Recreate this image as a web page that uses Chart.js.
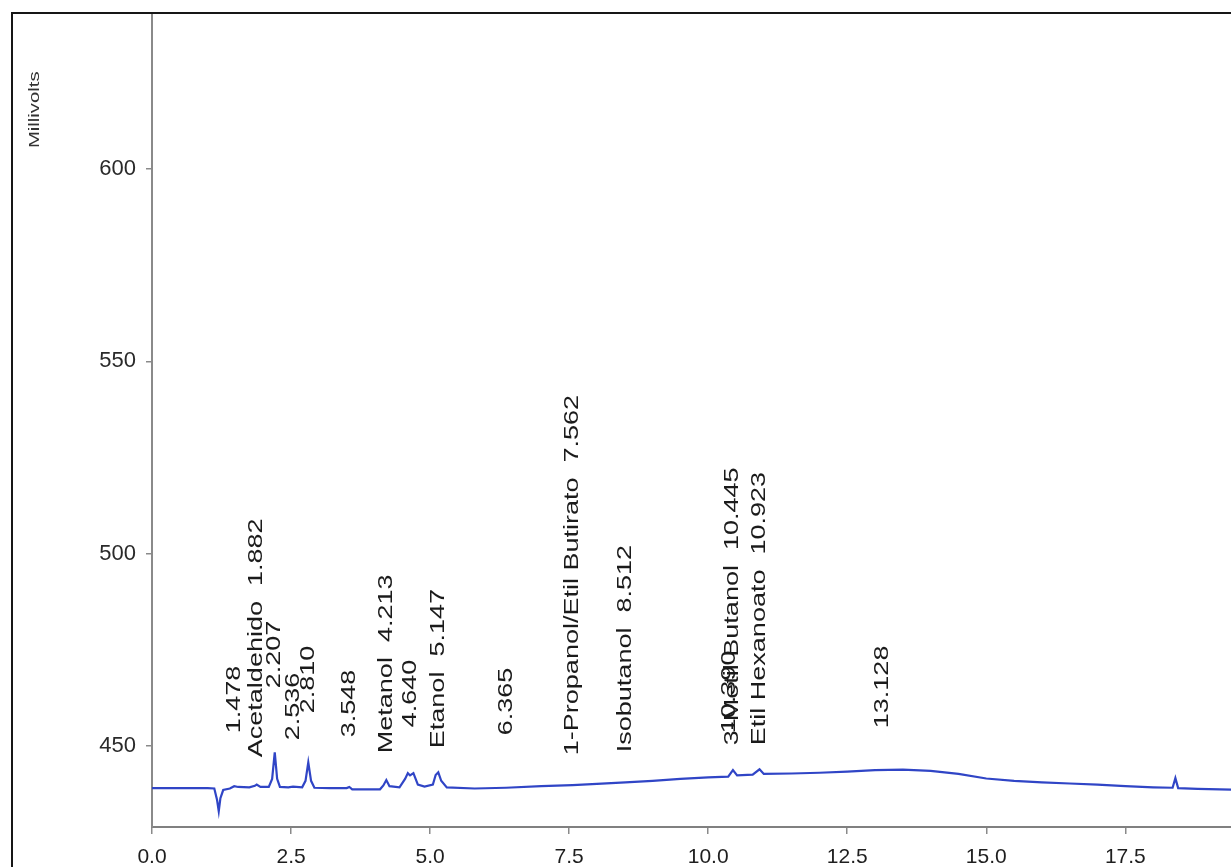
<!doctype html>
<html>

<head>
  <meta charset="utf-8">
  <script src="https://cdn.jsdelivr.net/npm/chart.js@4.4.1/dist/chart.umd.min.js"></script>
  <style>
    html, body { margin: 0; padding: 0; background: #fff; overflow: hidden; }
    #wrap { position: relative; width: 1231px; height: 867px; }
    #frame {
      position: absolute; left: 11px; top: 12px; width: 1400px; height: 1000px;
      border-left: 2px solid #161616; border-top: 2px solid #161616; pointer-events: none;
    }
  </style>
</head>

<body>
  <div id="wrap">
    <canvas id="chrom" width="1231" height="867"></canvas>
    <div id="frame"></div>
  </div>
  <script>
    // retention time (min) / detector signal (mV)
    const timeMin = [
      0.00, 0.50, 1.00, 1.12, 1.17, 1.20, 1.23, 1.28, 1.40, 1.478, 1.55, 1.75, 1.85, 1.882, 1.95,
      2.10, 2.16, 2.207, 2.25, 2.30, 2.45, 2.536, 2.70, 2.76, 2.810, 2.86, 2.92, 3.20, 3.50, 3.548,
      3.60, 4.10, 4.16, 4.213, 4.27, 4.45, 4.55, 4.60, 4.640, 4.70, 4.78, 4.90, 5.05, 5.10, 5.147,
      5.20, 5.30, 5.80, 6.365, 7.00, 7.562, 8.00, 8.512, 9.00, 9.50, 10.00, 10.36, 10.445, 10.52,
      10.80, 10.923, 11.00, 11.50, 12.00, 12.50, 13.00, 13.50, 14.00, 14.50, 15.00, 15.50, 16.00,
      16.50, 17.00, 17.50, 18.00, 18.35, 18.40, 18.45, 18.80, 19.40
    ];
    const signalMv = [
      439.1, 439.1, 439.1, 439.0, 436.0, 433.1, 436.5, 438.6, 439.0, 439.6, 439.4, 439.3, 439.7, 440.0, 439.4,
      439.4, 441.5, 448.4, 441.5, 439.4, 439.3, 439.5, 439.3, 441.0, 445.8, 441.0, 439.2, 439.1, 439.1, 439.4,
      438.8, 438.8, 439.8, 441.2, 439.6, 439.3, 441.5, 443.0, 442.4, 443.0, 440.0, 439.5, 440.0, 442.5, 443.2,
      441.0, 439.3, 439.0, 439.2, 439.6, 439.9, 440.2, 440.6, 441.0, 441.5, 441.9, 442.1, 443.8, 442.4,
      442.6, 444.0, 442.8, 442.9, 443.1, 443.4, 443.8, 443.9, 443.6, 442.8, 441.6, 441.0, 440.6,
      440.3, 440.0, 439.6, 439.3, 439.2, 441.7, 439.1, 438.9, 438.7
    ];

    // peak annotations
    const peakTimes = [1.478, 1.882, 2.207, 2.536, 2.810, 3.548, 4.213, 4.640, 5.147, 6.365, 7.562, 8.512, 10.390, 10.445, 10.923, 13.128];
    const peakNames = ['', 'Acetaldehido', '', '', '', '', 'Metanol', '', 'Etanol', '', '1-Propanol/Etil Butirato', 'Isobutanol', '', '3-Metil Butanol', 'Etil Hexanoato', ''];

    const xTickValues = [0, 2.5, 5, 7.5, 10, 12.5, 15, 17.5];
    const xTickLabels = ['0.0', '2.5', '5.0', '7.5', '10.0', '12.5', '15.0', '17.5'];
    const yTickValues = [450, 500, 550, 600];
    const yTitle = 'Millivolts';

    const FONT = '"Liberation Sans", Arial, sans-serif';

    // rotated peak labels + axis title (the print is stretched along the text)
    const peakLabels = {
      id: 'peakLabels',
      afterDatasetsDraw(chart, args, opts) {
        const { ctx, scales: { x, y } } = chart;
        const ref = y.getPixelForValue(450);
        ctx.save();
        ctx.fillStyle = '#1b1b1b';
        ctx.textBaseline = 'middle';
        ctx.textAlign = 'left';
        ctx.font = '20px ' + FONT;
        peakTimes.forEach((t, i) => {
          const txt = peakNames[i] ? peakNames[i] + '  ' + t.toFixed(3) : t.toFixed(3);
          ctx.save();
          ctx.translate(x.getPixelForValue(t), ref + opts.drop[i]);
          ctx.rotate(-Math.PI / 2);
          ctx.scale(opts.stretch, 1);
          ctx.fillText(txt, 0, 0);
          ctx.restore();
        });
        ctx.font = '15px ' + FONT;
        ctx.fillStyle = '#333';
        ctx.translate(35, 148);
        ctx.rotate(-Math.PI / 2);
        ctx.scale(opts.stretch, 1);
        ctx.fillText(yTitle, 0, 0);
        ctx.restore();
      }
    };

    const chart = new Chart(document.getElementById('chrom'), {
      type: 'line',
      data: {
        datasets: [{
          data: timeMin.map((t, i) => ({ x: t, y: signalMv[i] })),
          borderColor: '#3045c6',
          borderWidth: 2.2,
          pointRadius: 0,
          tension: 0,
          fill: false
        }]
      },
      options: {
        responsive: false,
        animation: false,
        devicePixelRatio: 1,
        layout: { padding: { top: 13, left: 0, right: 0, bottom: 0 } },
        plugins: {
          legend: { display: false },
          tooltip: { enabled: false },
          peakLabels: {
            stretch: 1.35,
            drop: [-13, 11, -58, -6, -33, -9, 7, -19, 2, -11, 9, 6, -13, -1, -1, -18]
          }
        },
        scales: {
          x: {
            type: 'linear',
            min: 0,
            max: 19.4,
            afterFit: (s) => { s.height = 40; s.paddingLeft = 0; s.paddingRight = 0; },
            afterBuildTicks: (s) => { s.ticks = xTickValues.map(v => ({ value: v })); },
            grid: { drawOnChartArea: false, drawTicks: true, tickLength: 7, color: '#8a8a8a', lineWidth: 1.5 },
            border: { display: true, color: '#808080', width: 2 },
            ticks: {
              autoSkip: false,
              maxRotation: 0,
              padding: 11,
              color: '#1e1e1e',
              font: { family: FONT, size: 21 },
              callback: (v) => xTickLabels[xTickValues.indexOf(v)]
            }
          },
          y: {
            type: 'linear',
            min: 429,
            max: 640.5,
            afterFit: (s) => { s.width = 152; s.paddingTop = 0; s.paddingBottom = 0; },
            afterBuildTicks: (s) => { s.ticks = yTickValues.map(v => ({ value: v })); },
            grid: { drawOnChartArea: false, drawTicks: true, tickLength: 6, color: '#8a8a8a', lineWidth: 1.5 },
            border: { display: true, color: '#8a8a8a', width: 2 },
            ticks: {
              padding: 10,
              color: '#2a2a2a',
              font: { family: FONT, size: 22 },
              callback: (v) => String(v)
            }
          }
        }
      },
      plugins: [peakLabels]
    });
  </script>
</body>

</html>
